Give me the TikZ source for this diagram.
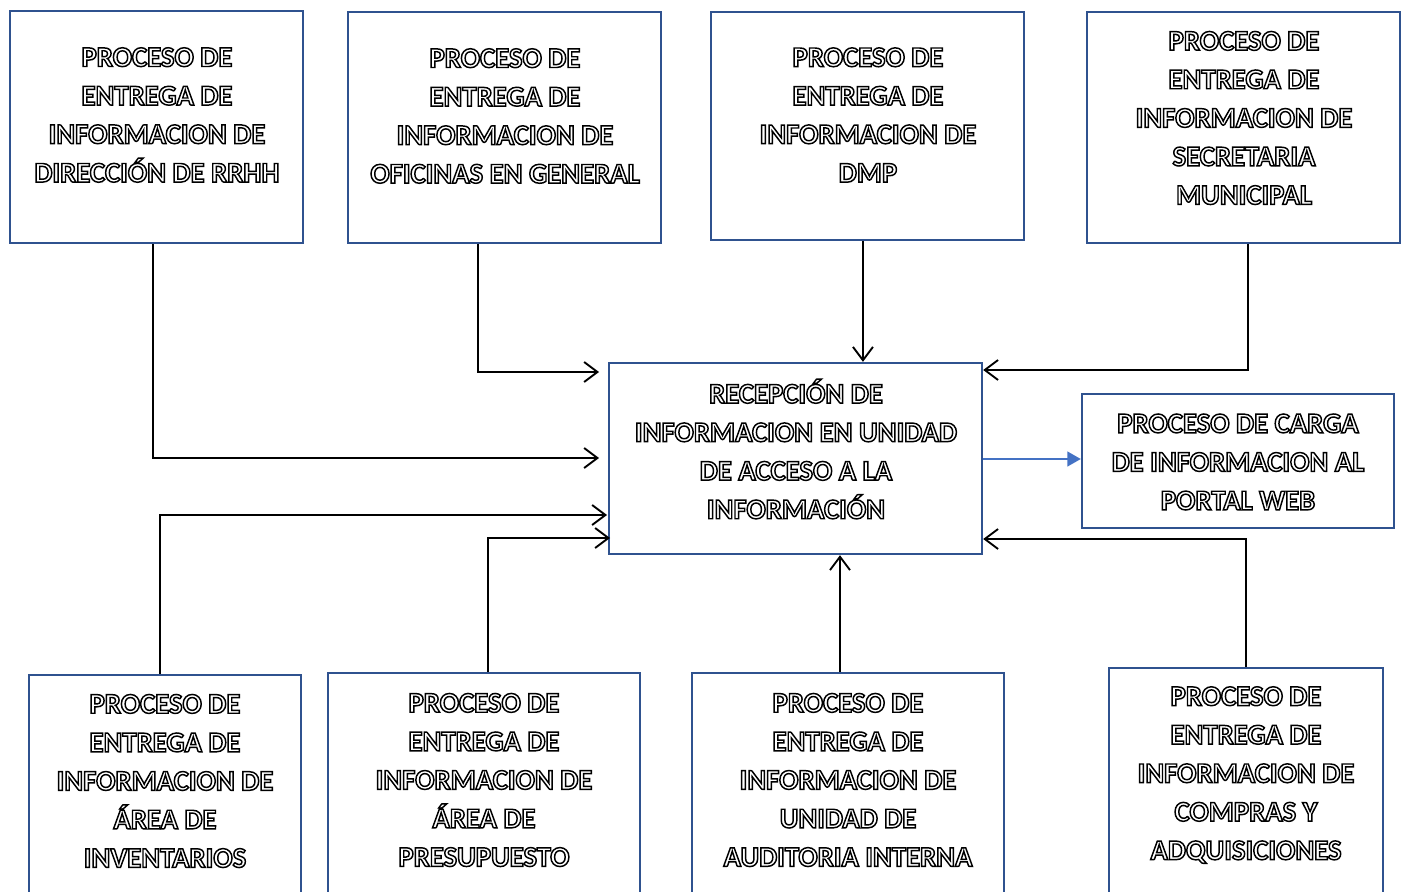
\documentclass[tikz,border=0pt]{standalone}
\usepackage{fontspec}
\setmainfont{Carlito}
\usetikzlibrary{arrows.meta,fit}
\definecolor{boxblue}{HTML}{2F528F}
\definecolor{arrblue}{HTML}{4472C4}
\begin{document}
\begin{tikzpicture}[x=0.75pt,y=-0.75pt,
  box/.style={draw=boxblue,line width=1.8pt,inner sep=0pt,fill=none},
  txt/.style={align=center,font=\fontsize{21.5}{28.9}\selectfont\bfseries,inner sep=0pt,
    execute at begin node={\special{pdf:literal direct 1 Tr 1.1 w}},
    execute at end node={\special{pdf:literal direct 0 Tr}}},
  conn/.style={line width=1.4pt,black,-{Straight Barb[length=10pt,width=15pt,line width=1.4pt]}},
  plain/.style={line width=1.4pt,black}]
\useasboundingbox (0,0) rectangle (1403,892);
\clip (0,0) rectangle (1403,892);
% boxes
\node[box,fit={(10,11) (303,243)}] (b1) {};
\node[box,fit={(348,12) (661,243)}] (b2) {};
\node[box,fit={(711,12) (1024,240)}] (b3) {};
\node[box,fit={(1087,12) (1400,243)}] (b4) {};
\node[box,fit={(609,363) (982,554)}] (c) {};
\node[box,fit={(1082,394) (1394,528)}] (r) {};
\node[box,fit={(29,675) (301,910)}] (b5) {};
\node[box,fit={(328,673) (640,910)}] (b6) {};
\node[box,fit={(692,673) (1004,910)}] (b7) {};
\node[box,fit={(1109,668) (1383,910)}] (b8) {};
% texts
\node[txt] (t1) at (157,115) {PROCESO DE\\ENTREGA DE\\INFORMACION DE\\DIRECCIÓN DE RRHH};
\node[txt] (t2) at (505,116) {PROCESO DE\\ENTREGA DE\\INFORMACION DE\\OFICINAS EN GENERAL};
\node[txt] (t3) at (868,115) {PROCESO DE\\ENTREGA DE\\INFORMACION DE\\DMP};
\node[txt] (t4) at (1244,118) {PROCESO DE\\ENTREGA DE\\INFORMACION DE\\SECRETARIA\\MUNICIPAL};
\node[txt] (tc) at (796,449) {RECEPCIÓN DE\\INFORMACION EN UNIDAD\\DE ACCESO A LA\\INFORMACIÓN};
\node[txt] (tr) at (1238,462) {PROCESO DE CARGA\\DE INFORMACION AL\\PORTAL WEB};
\node[txt] (t5) at (165,781) {PROCESO DE\\ENTREGA DE\\INFORMACION DE\\ÁREA DE\\INVENTARIOS};
\node[txt] (t6) at (484,780) {PROCESO DE\\ENTREGA DE\\INFORMACION DE\\ÁREA DE\\PRESUPUESTO};
\node[txt] (t7) at (848,780) {PROCESO DE\\ENTREGA DE\\INFORMACION DE\\UNIDAD DE\\AUDITORIA INTERNA};
\node[txt] (t8) at (1246,775) {PROCESO DE\\ENTREGA DE\\INFORMACION DE\\COMPRAS Y\\ADQUISICIONES};
% connector end points
\coordinate (e1) at (599,458);
\coordinate (e2) at (599,372);
\coordinate (e5) at (607,515);
\coordinate (e6) at (610,538);
\coordinate (y4) at (0,370);
\coordinate (y8) at (0,539);
\coordinate (yr) at (0,459);
% connectors
\draw[conn] ([xshift=-2.6pt]b1.south) |- (e1);
\draw[conn] ([xshift=-19.9pt]b2.south) |- (e2);
\draw[conn] ([xshift=-3.4pt]b3.south) -- ([xshift=-3.4pt]b3.south |- c.north);
\draw[conn] ([xshift=3.4pt]b4.south) |- (c.east |- y4);
\draw[conn] ([xshift=-3.75pt]b5.north) |- (e5);
\draw[conn] ([xshift=3pt]b6.north) |- (e6);
\draw[conn] ([xshift=-6pt]b7.north) -- ([xshift=-6pt]b7.north |- c.south);
\draw[conn] (b8.north) |- (c.east |- y8);
\draw[line width=1.4pt,arrblue,-{Triangle[length=10pt,width=11pt]}] (c.east |- yr) -- (r.west |- yr);
\end{tikzpicture}
\end{document}
